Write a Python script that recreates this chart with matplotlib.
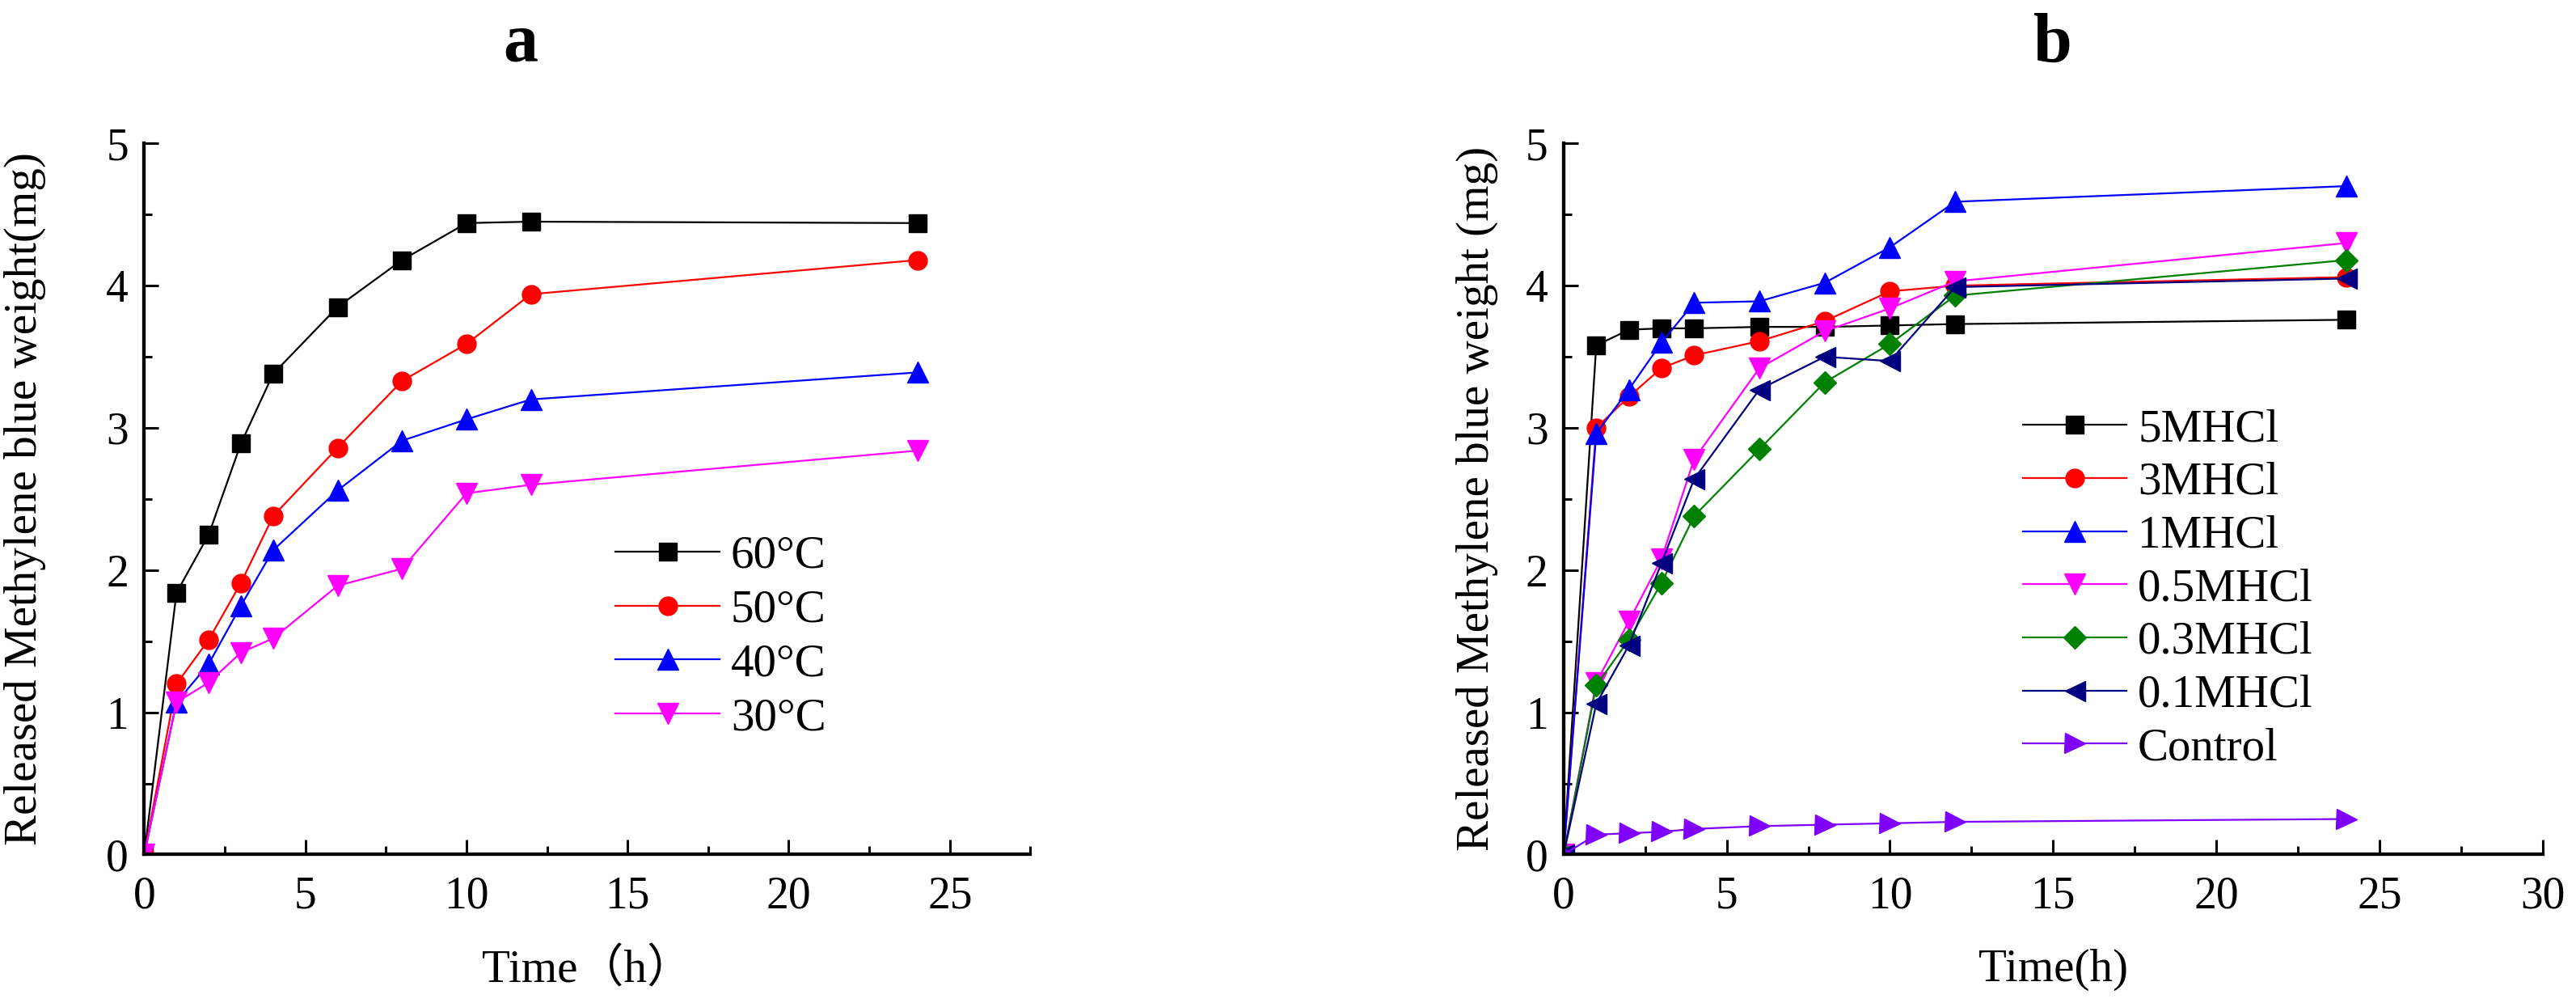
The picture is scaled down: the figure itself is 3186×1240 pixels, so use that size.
import matplotlib
matplotlib.use("Agg")
import matplotlib.pyplot as plt
from matplotlib.ticker import MultipleLocator

plt.rcParams['font.family'] = ['Liberation Serif', 'Noto Sans CJK SC']

# time points (h)
hours = [0, 1, 2, 3, 4, 6, 8, 10, 12, 24]

# panel a: temperature series
temp_labels = ['60°C', '50°C', '40°C', '30°C']
t60 = [0, 1.84, 2.25, 2.89, 3.38, 3.85, 4.18, 4.44, 4.45, 4.44]
t50 = [0, 1.20, 1.51, 1.91, 2.38, 2.86, 3.33, 3.59, 3.94, 4.18]
t40 = [0, 1.07, 1.34, 1.75, 2.14, 2.56, 2.91, 3.06, 3.20, 3.39]
t30 = [0, 1.07, 1.21, 1.42, 1.52, 1.89, 2.01, 2.54, 2.60, 2.84]

# panel b: acid concentration series
acid_labels = ['5MHCl', '3MHCl', '1MHCl', '0.5MHCl', '0.3MHCl', '0.1MHCl', 'Control']
hcl5 = [0, 3.58, 3.69, 3.70, 3.70, 3.71, 3.71, 3.72, 3.73, 3.76]
hcl3 = [0, 3.00, 3.22, 3.42, 3.51, 3.61, 3.75, 3.96, 4.00, 4.06]
hcl1 = [0, 2.96, 3.27, 3.60, 3.88, 3.89, 4.02, 4.27, 4.59, 4.70]
hcl05 = [0, 1.21, 1.64, 2.08, 2.78, 3.42, 3.68, 3.84, 4.03, 4.30]
hcl03 = [0, 1.19, 1.51, 1.91, 2.38, 2.85, 3.32, 3.59, 3.93, 4.18]
hcl01 = [0, 1.06, 1.47, 2.05, 2.64, 3.27, 3.50, 3.47, 3.99, 4.05]
control = [0, 0.14, 0.15, 0.16, 0.18, 0.20, 0.21, 0.22, 0.23, 0.25]

FS = 40      # tick labels
LFS = 41     # axis labels / legend
MSIZE = {'s': 16, 'o': 16.5, '^': 18.5, 'v': 18.5, 'D': 14, '<': 18, '>': 18}


def style_axes(ax, xmax):
    for side in ['top', 'right']:
        ax.spines[side].set_visible(False)
    for side in ['left', 'bottom']:
        ax.spines[side].set_linewidth(3.1)
    ax.set_xlim(0, xmax)
    ax.set_ylim(0, 5)
    ax.xaxis.set_major_locator(MultipleLocator(5))
    ax.xaxis.set_minor_locator(MultipleLocator(2.5))
    ax.yaxis.set_major_locator(MultipleLocator(1))
    ax.yaxis.set_minor_locator(MultipleLocator(0.5))
    ax.tick_params(which='major', direction='in', length=13, width=2.2,
                   labelsize=FS)
    ax.tick_params(which='minor', direction='in', length=7.5, width=2.2)
    ax.tick_params(axis='x', which='major', pad=19)
    ax.tick_params(axis='y', which='major', pad=14)


def draw_series(ax, series, labels, colors, markers):
    for ys, lab, c, m in zip(series, labels, colors, markers):
        ax.plot(hours, ys, color=c, marker=m, markersize=MSIZE[m], lw=1.6, label=lab)


fig = plt.figure(figsize=(31.86, 12.4), dpi=100)
ax_a = fig.add_axes([0.056, 0.148, 0.344, 0.709])
ax_b = fig.add_axes([0.607, 0.148, 0.380, 0.709])

# panel a
draw_series(ax_a, [t60, t50, t40, t30], temp_labels,
            ['black', 'red', 'blue', '#FF00FF'], ['s', 'o', '^', 'v'])
style_axes(ax_a, 27.5)
ax_a.set_xlabel('Time（h）', fontsize=LFS, labelpad=27)
ax_a.set_ylabel('Released Methylene blue weight(mg)', fontsize=LFS)
ax_a.yaxis.set_label_coords(-0.111, 0.5)
ax_a.legend(loc='upper left', bbox_to_anchor=(0.532, 0.449), frameon=False,
            fontsize=LFS, handlelength=2.25, handletextpad=0.25,
            labelspacing=0.26, borderpad=0, borderaxespad=0)

# panel b
draw_series(ax_b, [hcl5, hcl3, hcl1, hcl05, hcl03, hcl01, control], acid_labels,
            ['black', 'red', 'blue', '#FF00FF', '#008000', '#000080', '#8000FF'],
            ['s', 'o', '^', 'v', 'D', '<', '>'])
style_axes(ax_b, 30)
ax_b.set_xlabel('Time(h)', fontsize=LFS, labelpad=27)
ax_b.set_ylabel('Released Methylene blue weight (mg)', fontsize=LFS)
ax_b.yaxis.set_label_coords(-0.067, 0.5)
ax_b.legend(loc='upper left', bbox_to_anchor=(0.469, 0.627), frameon=False,
            fontsize=LFS, handlelength=2.25, handletextpad=0.25,
            labelspacing=0.24, borderpad=0, borderaxespad=0)

# panel letters
fig.text(0.202, 0.939, 'a', fontsize=62, fontweight='bold', ha='center', va='baseline')
fig.text(0.797, 0.939, 'b', fontsize=62, fontweight='bold', ha='center', va='baseline')

fig.savefig('out.png', dpi=100)
